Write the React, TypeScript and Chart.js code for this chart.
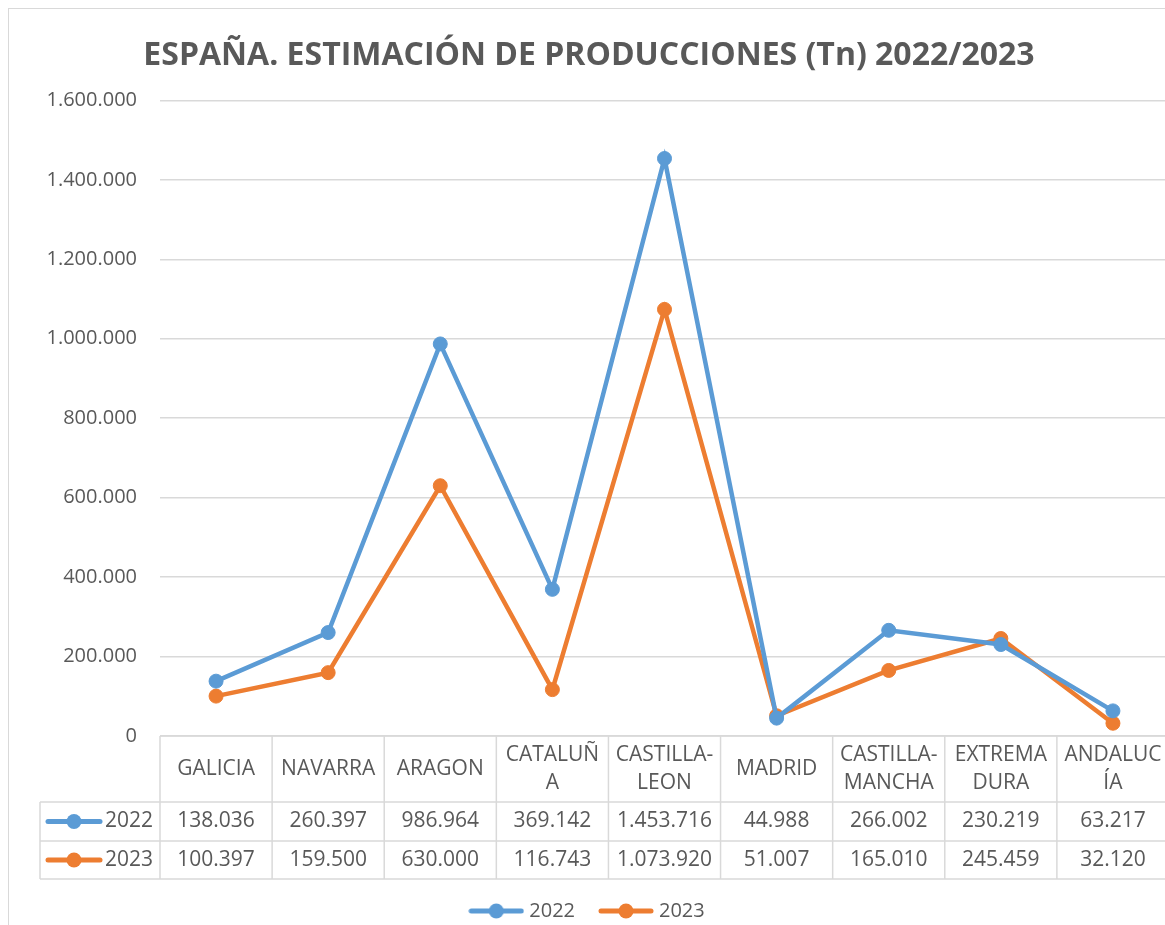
import React, { useEffect, useRef } from "react";
import { Chart, registerables } from "chart.js";

Chart.register(...registerables);

// ---- Data ----
const categories: string[][] = [
  ["GALICIA"],
  ["NAVARRA"],
  ["ARAGON"],
  ["CATALUÑ", "A"],
  ["CASTILLA-", "LEON"],
  ["MADRID"],
  ["CASTILLA-", "MANCHA"],
  ["EXTREMA", "DURA"],
  ["ANDALUC", "ÍA"],
];
const seriesNames = ["2022", "2023"];
const values2022 = [138036, 260397, 986964, 369142, 1453716, 44988, 266002, 230219, 63217];
const values2023 = [100397, 159500, 630000, 116743, 1073920, 51007, 165010, 245459, 32120];
const yMin = 0;
const yMax = 1600000;
const yStep = 200000;
const titleText = "ESPAÑA. ESTIMACIÓN DE PRODUCCIONES (Tn) 2022/2023";

// ---- Styles ----
const FONT = "'Open Sans', sans-serif";
const TEXT = "#595959";
const GRID = "#d9d9d9";
const COLORS = ["#5b9bd5", "#ed7d31"];

const fmt = (n: number) =>
  Math.round(n).toString().replace(/\B(?=(\d{3})+(?!\d))/g, ".");

function makeMarker(color: string) {
  const c = document.createElement("canvas");
  c.width = 56;
  c.height = 16;
  const g = c.getContext("2d")!;
  g.strokeStyle = color;
  g.lineWidth = 5;
  g.lineCap = "round";
  g.beginPath();
  g.moveTo(3, 8);
  g.lineTo(53, 8);
  g.stroke();
  g.fillStyle = color;
  g.beginPath();
  g.arc(28, 8, 7.5, 0, Math.PI * 2);
  g.fill();
  return c;
}

const tablePlugin = {
  id: "dataTable",
  beforeDatasetsDraw(chart: any) {
    const { ctx, chartArea } = chart;
    const xs = chart.scales.x;
    const n = categories.length;
    const left = chartArea.left;
    const right = chartArea.right;
    const colW = (right - left) / n;
    const top = chartArea.bottom;
    const headerBottom = top + 66;
    const row1Bottom = headerBottom + 39;
    const row2Bottom = row1Bottom + 38;
    const keyLeft = 31;

    ctx.save();
    ctx.strokeStyle = GRID;
    ctx.lineWidth = 1.5;
    const line = (x1: number, y1: number, x2: number, y2: number) => {
      ctx.beginPath();
      ctx.moveTo(x1, y1);
      ctx.lineTo(x2, y2);
      ctx.stroke();
    };
    line(left, top, right, top);
    line(keyLeft, headerBottom, right, headerBottom);
    line(keyLeft, row1Bottom, right, row1Bottom);
    line(keyLeft, row2Bottom, right, row2Bottom);
    for (let i = 0; i <= n; i++) {
      const x = left + i * colW;
      line(x, top, x, row2Bottom);
    }
    line(keyLeft, headerBottom, keyLeft, row2Bottom);

    ctx.fillStyle = TEXT;
    ctx.font = `21px ${FONT}`;
    ctx.textAlign = "center";
    ctx.textBaseline = "middle";
    const headerMid = top + 33;
    categories.forEach((lines, i) => {
      const cx = xs.getPixelForValue(i);
      const lh = 28;
      const start = headerMid - ((lines.length - 1) * lh) / 2;
      lines.forEach((t, j) => ctx.fillText(t, cx, start + j * lh));
    });

    const rows = [values2022, values2023];
    const rowMids = [headerBottom + 19.5, row1Bottom + 19];
    rows.forEach((vals, r) => {
      vals.forEach((v, i) => {
        ctx.fillText(fmt(v), xs.getPixelForValue(i), rowMids[r]);
      });
    });

    // series keys
    rows.forEach((_, r) => {
      const y = rowMids[r];
      ctx.strokeStyle = COLORS[r];
      ctx.lineWidth = 5;
      ctx.lineCap = "round";
      line(39, y, 91, y);
      ctx.fillStyle = COLORS[r];
      ctx.beginPath();
      ctx.arc(65, y, 7.5, 0, Math.PI * 2);
      ctx.fill();
      ctx.fillStyle = TEXT;
      ctx.textAlign = "right";
      ctx.fillText(seriesNames[r], 144, y);
      ctx.textAlign = "center";
    });
    ctx.restore();
  },
};

export default function App() {
  const ref = useRef<HTMLCanvasElement>(null);

  useEffect(() => {
    const canvas = ref.current!;
    const markers = COLORS.map(makeMarker);
    const chart = new Chart(canvas, {
      type: "line",
      data: {
        labels: categories,
        datasets: [values2022, values2023].map((vals, i) => ({
          label: seriesNames[i],
          data: vals,
          borderColor: COLORS[i],
          backgroundColor: COLORS[i],
          pointBackgroundColor: COLORS[i],
          pointBorderColor: COLORS[i],
          borderWidth: 4.5,
          pointRadius: 7,
          pointBorderWidth: 1,
          tension: 0,
          fill: false,
        })),
      },
      options: {
        responsive: false,
        animation: false,
        devicePixelRatio: 1,
        layout: { autoPadding: false, padding: { left: 0, right: 0, top: 0, bottom: 0 } },
        plugins: {
          title: {
            display: true,
            text: titleText,
            color: TEXT,
            font: { family: FONT, size: 32, weight: "bold" },
            padding: { top: 28, bottom: 25 },
          },
          legend: {
            position: "bottom",
            maxHeight: 52,
            labels: {
              usePointStyle: true,
              pointStyleWidth: 46,
              color: TEXT,
              font: { family: FONT, size: 20 },
              padding: 28,
              generateLabels: (c: any) => {
                const items = (Chart as any).defaults.plugins.legend.labels.generateLabels(c);
                return items.map((it: any, i: number) => ({ ...it, pointStyle: markers[i] }));
              },
            },
          },
          tooltip: { enabled: false },
        },
        scales: {
          x: {
            type: "category",
            offset: true,
            ticks: { display: false },
            grid: { display: false },
            border: { display: false },
            afterFit: (s: any) => {
              s.height = 137;
            },
          },
          y: {
            min: yMin,
            max: yMax,
            ticks: {
              stepSize: yStep,
              color: TEXT,
              font: { family: FONT, size: 20 },
              padding: 23,
              callback: (v: any) => fmt(Number(v)),
            },
            grid: { color: GRID, lineWidth: 1.5, drawTicks: false },
            border: { display: false },
            afterFit: (s: any) => {
              s.width = 151;
            },
          },
        },
      } as any,
      plugins: [tablePlugin],
    });
    return () => chart.destroy();
  }, []);

  return (
    <div
      style={{
        position: "fixed",
        left: 8,
        top: 8,
        width: 1157,
        height: 917,
        boxSizing: "border-box",
        borderLeft: `1px solid ${GRID}`,
        borderTop: `1px solid ${GRID}`,
        overflow: "hidden",
      }}
    >
      <canvas ref={ref} width={1160} height={916} style={{ display: "block" }} />
    </div>
  );
}
